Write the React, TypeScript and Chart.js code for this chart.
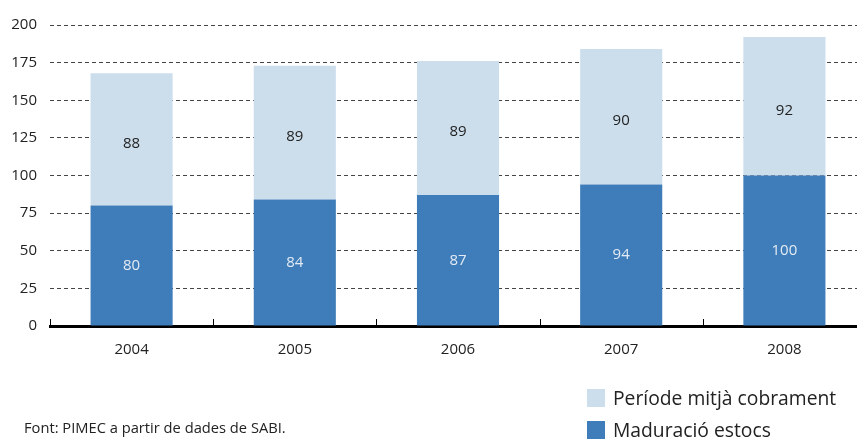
import React, { useEffect, useRef } from "react";
import { Chart, registerables } from "chart.js";

Chart.register(...registerables);

const years = ["2004", "2005", "2006", "2007", "2008"];
const maduracioEstocs = [80, 84, 87, 94, 100];
const periodeCobrament = [88, 89, 89, 90, 92];
const yTicks = [0, 25, 50, 75, 100, 125, 150, 175, 200];
const legendLabels = ["Període mitjà cobrament", "Maduració estocs"];
const sourceText = "Font: PIMEC a partir de dades de SABI.";

const DARK = "#3f7dba";
const LIGHT = "#ccdeec";
const FONT = "'Open Sans', 'DejaVu Sans', sans-serif";

const labelPlugin = {
  id: "segLabels",
  afterDatasetsDraw(chart: any) {
    const ctx = chart.ctx;
    ctx.save();
    ctx.font = `15px ${FONT}`;
    ctx.textAlign = "center";
    ctx.textBaseline = "middle";
    chart.data.datasets.forEach((ds: any, di: number) => {
      const meta = chart.getDatasetMeta(di);
      meta.data.forEach((bar: any, i: number) => {
        const { x, y, base } = bar.getProps(["x", "y", "base"], true);
        ctx.fillStyle = di === 0 ? "#e3ebf4" : "#222222";
        ctx.fillText(String(ds.data[i]), x, (y + base) / 2 + (di === 0 ? 0 : 4));
      });
    });
    const xs = chart.scales.x;
    const n = chart.data.labels.length;
    const w = (xs.right - xs.left) / n;
    ctx.strokeStyle = "#000";
    ctx.lineWidth = 1;
    for (let i = 0; i <= n; i++) {
      const px = Math.round(xs.left + i * w) + 0.5;
      ctx.beginPath();
      ctx.moveTo(px, chart.chartArea.bottom);
      ctx.lineTo(px, chart.chartArea.bottom - 7);
      ctx.stroke();
    }
    ctx.restore();
  },
};

export default function App() {
  const ref = useRef<HTMLCanvasElement>(null);
  useEffect(() => {
    const chart = new Chart(ref.current!, {
      type: "bar",
      data: {
        labels: years,
        datasets: [
          {
            label: legendLabels[1],
            data: maduracioEstocs,
            backgroundColor: DARK,
            categoryPercentage: 1,
            barPercentage: 0.503,
            inflateAmount: 0,
          },
          {
            label: legendLabels[0],
            data: periodeCobrament,
            backgroundColor: LIGHT,
            categoryPercentage: 1,
            barPercentage: 0.503,
            inflateAmount: 0,
          },
        ],
      },
      options: {
        animation: false,
        responsive: false,
        maintainAspectRatio: false,
        layout: { padding: { top: 25, right: 0, left: 0, bottom: 0 } },
        plugins: { legend: { display: false }, tooltip: { enabled: false } },
        scales: {
          x: {
            stacked: true,
            grid: { display: false, drawTicks: false },
            border: { display: true, color: "#000", width: 3 },
            ticks: { color: "#222", font: { family: FONT, size: 15 }, padding: 15 },
            afterFit: (s: any) => {
              s.height = 114;
            },
          },
          y: {
            stacked: true,
            min: 0,
            max: 200,
            afterBuildTicks: (s: any) => {
              s.ticks = yTicks.map((v) => ({ value: v }));
            },
            grid: { color: "#444", lineWidth: 1, drawTicks: false },
            border: { display: false, dash: [4, 3] },
            ticks: { color: "#222", font: { family: FONT, size: 15 }, padding: 13 },
            afterFit: (s: any) => {
              s.width = 50;
            },
          },
        },
      },
      plugins: [labelPlugin],
    });
    return () => chart.destroy();
  }, []);

  const legendItem = (color: string, text: string, top: number) => (
    <div style={{ position: "absolute", left: 587, top, display: "flex", alignItems: "center", height: 20 }}>
      <div style={{ width: 18, height: 18, background: color, marginRight: 8 }} />
      <span style={{ fontFamily: FONT, fontSize: 19.3, color: "#222", whiteSpace: "nowrap", lineHeight: "20px" }}>{text}</span>
    </div>
  );

  return (
    <div style={{ position: "fixed", left: 0, top: 0, width: 857, height: 440, overflow: "hidden", background: "#fff" }}>
      <div style={{ position: "absolute", left: 0, top: 0, width: 866, height: 440 }}>
        <canvas ref={ref} width={866} height={440} style={{ display: "block", width: 866, height: 440 }} />
      </div>
      {legendItem(LIGHT, legendLabels[0], 388)}
      {legendItem(DARK, legendLabels[1], 420)}
      <div style={{ position: "absolute", left: 24, top: 417, fontFamily: FONT, fontSize: 14.7, color: "#222", whiteSpace: "nowrap" }}>
        {sourceText}
      </div>
    </div>
  );
}
